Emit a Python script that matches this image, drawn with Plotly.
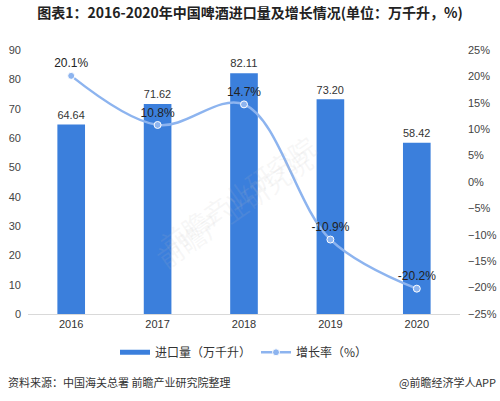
import plotly.graph_objects as go

years = ['2016', '2017', '2018', '2019', '2020']
import_volume = [64.64, 71.62, 82.11, 73.20, 58.42]
growth_rate = [20.1, 10.8, 14.7, -10.9, -20.2]

BAR_COLOR = '#3b7fdc'
LINE_COLOR = '#8db4ef'
FONT = 'Liberation Sans, Arial, sans-serif'
CJK = 'Noto Sans CJK SC, sans-serif'

fig = go.Figure()

fig.add_trace(go.Bar(
    x=years, y=import_volume,
    marker=dict(color=BAR_COLOR, line=dict(width=0)),
    text=[f'{v:.2f}' for v in import_volume],
    textposition='outside',
    textfont=dict(family=FONT, size=12, color='#333333'),
    cliponaxis=False,
    showlegend=False,
    yaxis='y',
))

# legend stand-in for the bars (wide flat swatch)
fig.add_trace(go.Scatter(
    x=[None], y=[None], mode='lines',
    line=dict(color=BAR_COLOR, width=5),
    name='进口量（万千升）',
))

fig.add_trace(go.Scatter(
    x=years, y=growth_rate,
    mode='lines+markers+text',
    line=dict(color=LINE_COLOR, width=2.5, shape='spline', smoothing=1),
    marker=dict(size=7, color=LINE_COLOR, line=dict(color='white', width=1)),
    text=[f'{v:.1f}%' for v in growth_rate],
    textposition='top center',
    textfont=dict(family=FONT, size=12, color='#222222'),
    cliponaxis=False,
    name='增长率（%）',
    yaxis='y2',
))

fig.update_layout(
    width=500, height=401,
    margin=dict(l=28, r=40, t=50, b=87, autoexpand=False),
    paper_bgcolor='white', plot_bgcolor='white',
    bargap=0.68,
    hovermode=False,
    title=dict(
        text='<b>图表1：2016-2020年中国啤酒进口量及增长情况(单位：万千升，%)</b>',
        x=0.5, xanchor='center', y=0.968, yanchor='middle',
        font=dict(family=CJK, size=14, color='#222222'),
    ),
    xaxis=dict(
        showgrid=False, showline=True, linecolor='#d9d9d9', linewidth=1,
        ticks='', tickfont=dict(family=FONT, size=11, color='#333333'),
    ),
    yaxis=dict(
        range=[0, 90], dtick=10, showgrid=False, zeroline=False,
        showline=False, ticks='',
        tickfont=dict(family=FONT, size=11, color='#444444'),
        ticklabelstandoff=6,
    ),
    yaxis2=dict(
        range=[-25, 25], dtick=5, ticksuffix='%', overlaying='y', side='right',
        showgrid=False, zeroline=False, showline=False, ticks='',
        tickfont=dict(family=FONT, size=11, color='#444444'),
        ticklabelstandoff=7,
    ),
    legend=dict(
        orientation='h', x=0.5, xanchor='center', y=-0.145, yanchor='middle',
        font=dict(family=CJK, size=12, color='#333333'),
        itemwidth=30, traceorder='normal',
    ),
)

# faint watermarks
for wx, wy in [(0.28, 0.72), (0.68, 0.4)]:
    fig.add_annotation(
        xref='paper', yref='paper', x=wx, y=wy, text='前瞻产业研究院',
        showarrow=False, textangle=-35,
        font=dict(family=CJK, size=26, color='rgba(190,190,190,0.12)'),
    )

fig.add_annotation(
    xref='paper', yref='paper', x=-0.05, y=-0.258, xanchor='left', yanchor='middle',
    text='资料来源：中国海关总署 前瞻产业研究院整理', showarrow=False,
    font=dict(family=CJK, size=11, color='#333333'),
)
fig.add_annotation(
    xref='paper', yref='paper', x=1.088, y=-0.258, xanchor='right', yanchor='middle',
    text='@前瞻经济学人APP', showarrow=False,
    font=dict(family=CJK, size=11, color='#333333'),
)

# browser default body margin would shift the 500x401 figure by 8px
fig.write_html('out.html', config={'displayModeBar': False},
               post_script="document.body.style.margin='0';")
